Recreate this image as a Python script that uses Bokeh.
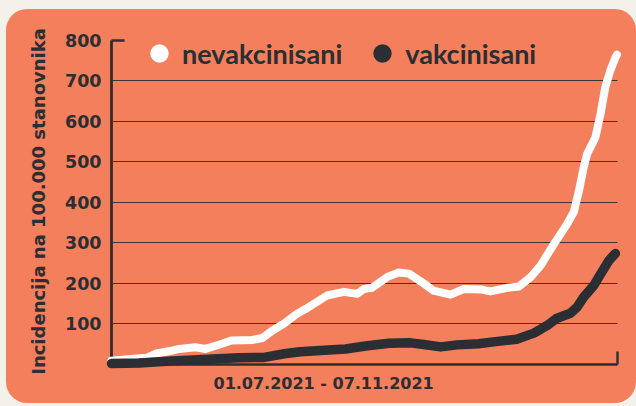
import math
from bokeh.plotting import figure
from bokeh.models import (Range1d, LinearAxis, FixedTicker, Grid, Legend,
                          LegendItem, ColumnDataSource, Title)
from bokeh.embed import file_html
from bokeh.resources import INLINE

# ---- data (days since 01.07.2021, incidence per 100.000) ----
day_nevakcinisani = [0, 3.6, 8.9, 11.2, 15.5, 17.2, 21.4, 24, 27.6, 30.6, 35.9, 38.5,
                     41, 44.1, 47.2, 50.3, 55, 59.3, 62.7, 64.4, 66.5, 70.4, 73.3,
                     75.9, 78.9, 82.2, 86.5, 89.9, 94.2, 96.7, 101, 103.9, 106.9,
                     109.5, 112.9, 116.3, 118, 119.3, 120.5, 121.4, 123.5, 124.8,
                     126, 127.3, 128.6, 129]
nevakcinisani = [9, 12, 16, 26, 34, 38, 42, 38, 49, 59, 60, 65,
                 83, 101, 124, 141, 170, 179, 174, 186, 189, 216, 227,
                 224, 205, 182, 172, 186, 185, 180, 189, 192, 215,
                 244, 297, 347, 377, 429, 487, 520, 561, 619,
                 684, 726, 758, 765]

day_vakcinisani = [0, 7, 13.1, 23.4, 32.5, 39, 44.1, 48.2, 53.3, 59.7, 65.3, 70.9,
                   76.3, 79.7, 84, 88.2, 93.7, 98, 103.4, 107.8, 111.2, 113.7,
                   117.1, 118.8, 120.5, 123.1, 124.8, 126.9, 128.6]
vakcinisani = [2, 3, 7, 12, 16, 17, 26, 31, 34, 38, 46, 52,
               53, 49, 43, 48, 51, 56, 62, 77, 96, 114,
               126, 141, 166, 195, 223, 256, 274]

y_ticks = [100, 200, 300, 400, 500, 600, 700, 800]
grid_ticks = [100, 200, 300, 400, 500, 600, 700]
series_names = ["nevakcinisani", "vakcinisani"]
x_title = "01.07.2021 - 07.11.2021"
y_title = "Incidencija na 100.000 stanovnika"
last_day = 129.05

ORANGE = "#F47F5C"
DARK = "#2B2E32"
GRID = "#3B3533"
CREAM = "#F4F1EB"

p = figure(width=630, height=394, output_backend="svg", toolbar_location=None,
           x_range=Range1d(-2.04, 131.17), y_range=Range1d(-15.3, 819.8),
           x_axis_type=None, y_axis_type=None,
           min_border_left=97, min_border_right=11, min_border_top=23,
           min_border_bottom=33,
           background_fill_alpha=0, border_fill_alpha=0,
           outline_line_color=None)
p.styles = {"border-radius": "21px", "overflow": "hidden",
            "background-color": ORANGE,
            "margin-left": "6px", "margin-top": "9px",
            "box-shadow": "0 0 0 40px " + CREAM}

# grid lines
p.add_layout(Grid(dimension=1, ticker=FixedTicker(ticks=grid_ticks),
                  cross_bounds=(0, last_day), grid_line_color=GRID,
                  grid_line_width=1.2))
# frame lines (axis bracket) drawn as bounded grid lines
p.add_layout(Grid(dimension=1, ticker=FixedTicker(ticks=[800]),
                  cross_bounds=(0, 3.3), grid_line_color=DARK,
                  grid_line_width=2.5))
p.add_layout(Grid(dimension=0, ticker=FixedTicker(ticks=[0]),
                  cross_bounds=(0, 800), grid_line_color=DARK,
                  grid_line_width=2.8))
p.add_layout(Grid(dimension=1, ticker=FixedTicker(ticks=[0]),
                  cross_bounds=(0, last_day), grid_line_color=DARK,
                  grid_line_width=2.4))
p.add_layout(Grid(dimension=0, ticker=FixedTicker(ticks=[last_day]),
                  cross_bounds=(0, 32), grid_line_color=DARK,
                  grid_line_width=2.4))

# y axis (labels only)
yaxis = LinearAxis(ticker=FixedTicker(ticks=y_ticks),
                   axis_line_color=None,
                   major_tick_line_color=None, minor_tick_line_color=None,
                   major_tick_out=0, major_tick_in=0,
                   major_label_standoff=2,
                   major_label_text_font="DejaVu Sans",
                   major_label_text_font_style="bold",
                   major_label_text_font_size="17.5px",
                   major_label_text_color=DARK,
                   axis_label=y_title, axis_label_standoff=13,
                   axis_label_text_font="DejaVu Sans",
                   axis_label_text_font_style="bold",
                   axis_label_text_font_size="18px",
                   axis_label_text_color=DARK)
p.add_layout(yaxis, "left")

# x title (period) below the frame
p.add_layout(Title(text=x_title, align="left", offset=110, standoff=3,
                   text_font="DejaVu Sans", text_font_style="bold",
                   text_font_size="16px", text_color=DARK), "below")

# lines
p.line(day_nevakcinisani, nevakcinisani, line_color="white", line_width=8,
       line_cap="round", line_join="round")
p.line(day_vakcinisani, vakcinisani, line_color=DARK, line_width=9.5,
       line_cap="round", line_join="round")

# legend (hidden-point circle renderers)
nan = float("nan")
r_w = p.scatter(x="x", y="y", source=ColumnDataSource(dict(x=[nan], y=[nan])),
                size=20, fill_color="white", line_color=None)
r_d = p.scatter(x="x", y="y", source=ColumnDataSource(dict(x=[nan], y=[nan])),
                size=20, fill_color=DARK, line_color=None)
legend = Legend(items=[LegendItem(label=series_names[0], renderers=[r_w]),
                       LegendItem(label=series_names[1], renderers=[r_d])],
                orientation="horizontal", location=(33, 294),
                padding=0, margin=0, spacing=17,
                glyph_width=46, glyph_height=46, label_standoff=0,
                label_text_font="Lato", label_text_font_style="bold",
                label_text_font_size="27px", label_text_color=DARK,
                background_fill_alpha=0, border_line_color=None)
p.add_layout(legend, "center")

open("out.html", "w").write(file_html(p, INLINE))
